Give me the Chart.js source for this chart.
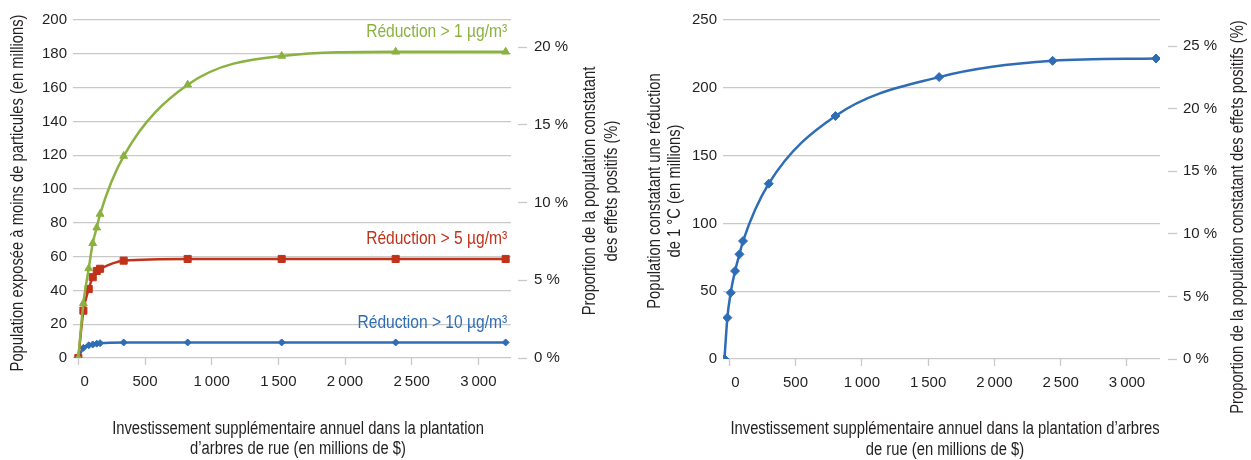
<!DOCTYPE html>
<html lang="fr">
<head>
<meta charset="utf-8">
<title>Plantation d'arbres de rue</title>
<script src="https://cdn.jsdelivr.net/npm/chart.js@4.4.1/dist/chart.umd.min.js"></script>
<style>
    html, body { margin: 0; padding: 0; background: #fff; }
    #wrap { position: relative; width: 1251px; height: 460px; overflow: hidden; }
    #chartParticules { position: absolute; left: 0; top: 0; }
    #chartChaleur { position: absolute; left: 625px; top: 0; }
</style>
</head>
<body>
<div id="wrap">
    <canvas id="chartParticules" width="620" height="460"></canvas>
    <canvas id="chartChaleur" width="626" height="460"></canvas>
</div>
<script>
// ---- données ----
const investParticules = [0, 38, 78, 108, 138, 163, 340, 820, 1525, 2380, 3205];
const reduction1 = [0, 32.4, 53, 67.9, 77.1, 85.2, 119.5, 161.7, 178.7, 181.2, 181.2];
const reduction5 = [0, 28, 40.8, 47.8, 51.5, 52.8, 57.6, 58.6, 58.6, 58.6, 58.6];
const reduction10 = [0, 6, 7.5, 8, 8.5, 8.8, 9.2, 9.2, 9.2, 9.2, 9.2];
const seriesNames = ['Réduction > 1 µg/m³', 'Réduction > 5 µg/m³', 'Réduction > 10 µg/m³'];

const investChaleur = [-36, -14, 11, 44, 77, 104, 298, 801, 1583, 2439, 3219];
const reduction1C = [0, 30.5, 48.9, 64.9, 77.2, 87, 129.3, 179.2, 207.9, 219.9, 221.6];

const xTicks = [0, 500, 1000, 1500, 2000, 2500, 3000];
const xTickLabels = ['\u2007 0', '500', '1\u2009000', '1\u2009500', '2\u2009000', '2\u2009500', '3\u2009000'];
const pctTicks = [0, 5, 10, 15, 20, 25];
const pctTickLabels = ['0 %', '5 %', '10 %', '15 %', '20 %', '25 %'];

const TEXT = '#231f20';
const GRID = '#c9c9c9';
const GREEN = '#8bb240';
const RED = '#c0321a';
const BLUE = '#2e6db5';
const SANS = '"Liberation Sans", Arial, sans-serif';
const NARROW_X = 0.82; // texte condensé (façon Arial Narrow)
const TICK_FONT = { family: SANS, size: 15 };

/**
 * titres d'axes dessinés à la main (rotation -90° aussi à droite)
 */
const axisTitlePlugin = {
    id: 'axisTitles',
    afterDraw(chart, args, opts) {
        const ctx = chart.ctx;
        (opts.items || []).forEach(item => {
            ctx.save();
            ctx.font = opts.font;
            ctx.fillStyle = TEXT;
            ctx.textAlign = 'center';
            ctx.textBaseline = 'middle';
            ctx.translate(item.x, item.y);
            if (item.vertical) ctx.rotate(-Math.PI / 2);
            ctx.scale(NARROW_X, 1);
            const n = item.lines.length;
            item.lines.forEach((line, i) => {
                ctx.fillText(line, 0, (i - (n - 1) / 2) * item.lineHeight);
            });
            ctx.restore();
        });
    }
};

/**
 * étiquette au bout de chaque courbe
 */
const endLabelPlugin = {
    id: 'endLabels',
    afterDatasetsDraw(chart, args, opts) {
        const ctx = chart.ctx;
        chart.data.datasets.forEach((ds, i) => {
            if (!ds.endLabel) return;
            const meta = chart.getDatasetMeta(i);
            const last = meta.data[meta.data.length - 1];
            ctx.save();
            ctx.font = opts.font;
            ctx.fillStyle = ds.borderColor;
            ctx.textAlign = 'right';
            ctx.textBaseline = 'middle';
            ctx.translate(last.x + opts.dx, last.y + opts.dy);
            ctx.scale(NARROW_X, 1);
            ctx.fillText(ds.endLabel, 0, 0);
            ctx.restore();
        });
    }
};

function serie(label, xs, ys, color, style, radius) {
    return {
        label: label,
        endLabel: label,
        data: xs.map((x, i) => ({ x: x, y: ys[i] })),
        borderColor: color,
        backgroundColor: color,
        pointBackgroundColor: color,
        pointBorderColor: color,
        pointBorderWidth: 1,
        pointStyle: style,
        pointRadius: radius,
        borderWidth: 2.5,
        cubicInterpolationMode: 'monotone',
        fill: false
    };
}

function xScale(min, max, height) {
    return {
        type: 'linear',
        position: 'bottom',
        min: min,
        max: max,
        afterBuildTicks: s => { s.ticks = xTicks.map(v => ({ value: v })); },
        afterFit: s => { s.height = height; },
        ticks: {
            color: TEXT,
            font: TICK_FONT,
            padding: 8,
            maxRotation: 0,
            autoSkip: false,
            callback: v => xTickLabels[xTicks.indexOf(v)]
        },
        grid: { drawOnChartArea: false, drawTicks: true, tickLength: 7, tickColor: GRID, tickWidth: 1.3 },
        border: { display: false }
    };
}

function yScale(max, step, width) {
    return {
        position: 'left',
        min: 0,
        max: max,
        afterFit: s => { s.width = width; },
        ticks: { stepSize: step, color: TEXT, font: TICK_FONT, padding: 6 },
        grid: { color: GRID, lineWidth: 1.3, drawTicks: false },
        border: { display: false }
    };
}

function pctScale(max, width, gap, pad) {
    return {
        position: 'right',
        min: 0,
        max: max,
        afterBuildTicks: s => { s.ticks = pctTicks.filter(v => v <= max).map(v => ({ value: v })); },
        afterFit: s => { s.width = width; },
        ticks: {
            color: TEXT,
            font: TICK_FONT,
            padding: pad,
            callback: v => pctTickLabels[pctTicks.indexOf(v)]
        },
        grid: {
            drawOnChartArea: false,
            drawTicks: true,
            tickLength: gap + 9,
            tickBorderDash: [9, gap],
            tickBorderDashOffset: 9,
            tickColor: GRID,
            tickWidth: 1.3
        },
        border: { display: false }
    };
}

function setChartConfig(datasets, scales, titles, withLabels) {
    return {
        type: 'line',
        data: { datasets: datasets },
        options: {
            responsive: false,
            animation: false,
            layout: { padding: { top: 20, left: 0, right: 0, bottom: 0 } },
            plugins: {
                legend: { display: false },
                tooltip: { enabled: false },
                axisTitles: { font: '18px ' + SANS, items: titles },
                endLabels: withLabels ? { font: '19px ' + SANS, dx: 1.5, dy: -20 } : false
            },
            scales: scales
        },
        plugins: [axisTitlePlugin, endLabelPlugin]
    };
}

// ---- graphique de gauche : particules ----
new Chart(document.getElementById('chartParticules'), setChartConfig(
    [
        serie(seriesNames[0], investParticules, reduction1, GREEN, 'triangle', 4.5),
        serie(seriesNames[1], investParticules, reduction5, RED, 'rect', 5),
        serie(seriesNames[2], investParticules, reduction10, BLUE, 'rectRot', 3.5)
    ],
    {
        x: xScale(-40, 3245, 102),
        y: yScale(200, 20, 73),
        y2: pctScale(21.74, 109, 7, 7)
    },
    [
        { lines: ['Population exposée à moins de particules (en millions)'], x: 18, y: 193, vertical: true, lineHeight: 20 },
        { lines: ['Proportion de la population constatant', 'des effets positifs (%)'], x: 601, y: 191, vertical: true, lineHeight: 21.5 },
        { lines: ['Investissement supplémentaire annuel dans la plantation', 'd\u2019arbres de rue (en millions de $)'], x: 298, y: 439, vertical: false, lineHeight: 20.5 }
    ],
    true
));

// ---- graphique de droite : chaleur ----
new Chart(document.getElementById('chartChaleur'), setChartConfig(
    [
        serie('Réduction de 1 °C', investChaleur, reduction1C, BLUE, 'rectRot', 4.5)
    ],
    {
        x: xScale(-47, 3249, 101),
        y: yScale(250, 50, 98),
        y2: pctScale(27.08, 91, 8, 6)
    },
    [
        { lines: ['Population constatant une réduction', 'de 1 °C (en millions)'], x: 40, y: 191, vertical: true, lineHeight: 20 },
        { lines: ['Proportion de la population constatant des effets positifs (%)'], x: 613, y: 217, vertical: true, lineHeight: 20 },
        { lines: ['Investissement supplémentaire annuel dans la plantation d\u2019arbres', 'de rue (en millions de $)'], x: 320, y: 439.5, vertical: false, lineHeight: 20.5 }
    ],
    false
));
</script>
</body>
</html>
